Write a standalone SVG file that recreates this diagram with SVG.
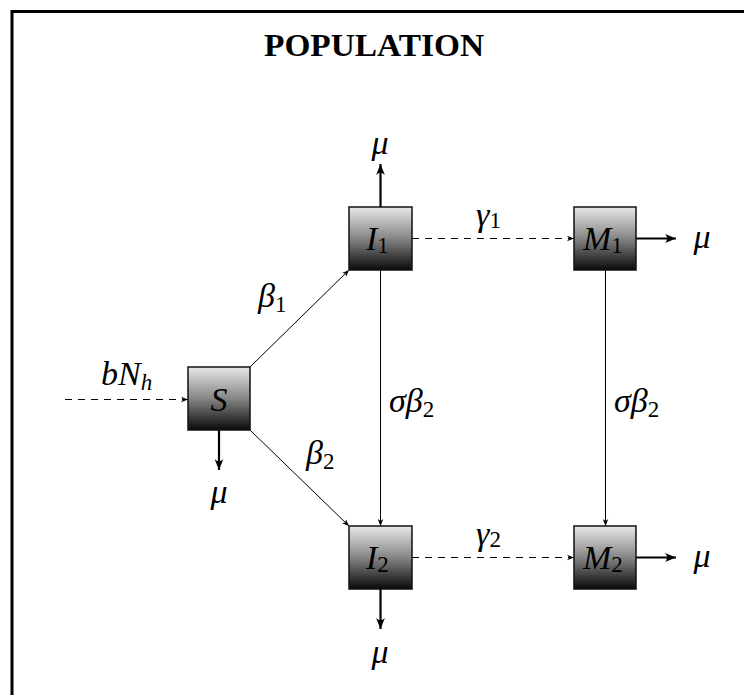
<svg xmlns="http://www.w3.org/2000/svg" width="744" height="695" viewBox="0 0 744 695">
<defs>
<linearGradient id="g" x1="0" y1="0" x2="0" y2="1">
<stop offset="0" stop-color="#e8e8e8"/>
<stop offset="0.5" stop-color="#858585"/>
<stop offset="1" stop-color="#0a0a0a"/>
</linearGradient>
<marker id="thin" viewBox="0 0 10 10" refX="10" refY="5" markerWidth="7" markerHeight="7" markerUnits="userSpaceOnUse" orient="auto">
<path d="M0,1 L10,5 L0,9 L3,5 Z" fill="#000"/>
</marker>
<marker id="thick" viewBox="0 0 10 10" refX="10" refY="5" markerWidth="11" markerHeight="11" markerUnits="userSpaceOnUse" orient="auto">
<path d="M0,1 Q4,5 0,9 L10,5 Z" fill="#000"/>
</marker>
</defs>
<style>
.box{fill:url(#g);stroke:#111;stroke-width:1.5}
.m{font-family:"Liberation Serif",serif;font-style:italic;font-size:34px;fill:#000}
.sub{font-style:normal;font-size:23px}
.subi{font-style:italic;font-size:23px}
.thin{stroke:#000;stroke-width:1;fill:none;marker-end:url(#thin)}
.dash{stroke:#000;stroke-width:1.2;fill:none;stroke-dasharray:7 6;marker-end:url(#thin)}
.thick{stroke:#000;stroke-width:2.2;fill:none;marker-end:url(#thick)}
</style>
<rect width="744" height="695" fill="#fff"/>
<path d="M12,695 V11.5 H744" fill="none" stroke="#000" stroke-width="3"/>
<text x="374" y="56" text-anchor="middle" textLength="220" lengthAdjust="spacingAndGlyphs" font-family="Liberation Serif,serif" font-weight="bold" font-size="32">POPULATION</text>

<g id="connectors">
<line class="dash" x1="65" y1="399.5" x2="188" y2="399.5"/>
<line class="thin" x1="250" y1="367" x2="349" y2="270"/>
<line class="thin" x1="250" y1="430" x2="349" y2="526"/>
<line class="thick" x1="219" y1="430" x2="219" y2="470"/>
<line class="thick" x1="380.5" y1="207" x2="380.5" y2="164"/>
<line class="dash" x1="412" y1="238.5" x2="574" y2="238.5"/>
<line class="thick" x1="636" y1="238.5" x2="676" y2="238.5"/>
<line class="thin" x1="380.5" y1="270" x2="380.5" y2="526"/>
<line class="thin" x1="605.5" y1="270" x2="605.5" y2="526"/>
<line class="thick" x1="380.5" y1="589" x2="380.5" y2="629"/>
<line class="dash" x1="412" y1="557.5" x2="574" y2="557.5"/>
<line class="thick" x1="636" y1="557.5" x2="676" y2="557.5"/>
</g>

<g id="labels">
<text class="m" x="101" y="385">bN<tspan class="subi" dy="5">h</tspan></text>
<text class="m" x="258" y="307">β<tspan class="sub" dy="5">1</tspan></text>
<text class="m" x="306" y="464">β<tspan class="sub" dy="5">2</tspan></text>
<text class="m" x="389" y="412">σβ<tspan class="sub" dy="5">2</tspan></text>
<text class="m" x="614" y="412">σβ<tspan class="sub" dy="5">2</tspan></text>
<text class="m" x="476" y="226">γ<tspan class="sub" dy="2">1</tspan></text>
<text class="m" x="476" y="545">γ<tspan class="sub" dy="2">2</tspan></text>
<text class="m" x="219" y="503" text-anchor="middle">μ</text>
<text class="m" x="380" y="154" text-anchor="middle">μ</text>
<text class="m" x="380" y="663" text-anchor="middle">μ</text>
<text class="m" x="702" y="248" text-anchor="middle">μ</text>
<text class="m" x="702" y="567" text-anchor="middle">μ</text>
</g>

<g id="node-S"><rect class="box" x="188" y="367" width="62" height="63"/><text class="m" x="219" y="411" text-anchor="middle">S</text></g>
<g id="node-I1"><rect class="box" x="349" y="207" width="63" height="63"/><text class="m" x="366" y="250">I<tspan class="sub" dy="3">1</tspan></text></g>
<g id="node-M1"><rect class="box" x="574" y="207" width="62" height="63"/><text class="m" x="583" y="250">M<tspan class="sub" dy="3">1</tspan></text></g>
<g id="node-I2"><rect class="box" x="349" y="526" width="63" height="63"/><text class="m" x="366" y="569">I<tspan class="sub" dy="3">2</tspan></text></g>
<g id="node-M2"><rect class="box" x="574" y="526" width="62" height="63"/><text class="m" x="583" y="569">M<tspan class="sub" dy="3">2</tspan></text></g>
</svg>
